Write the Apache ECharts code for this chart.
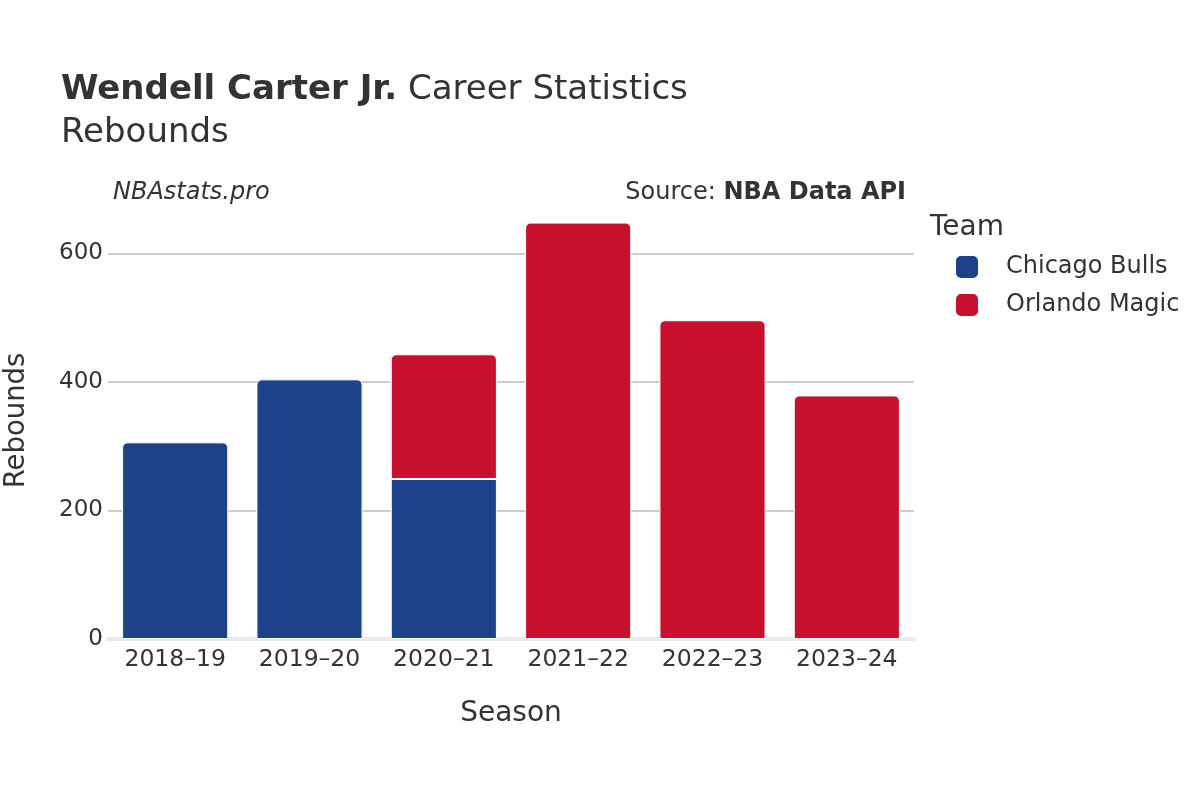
<!DOCTYPE html>
<html>
<head>
<meta charset="utf-8">
<script src="https://cdn.jsdelivr.net/npm/echarts@6/dist/echarts.min.js"></script>
<style>html,body{margin:0;padding:0;background:#fff}#c{width:1200px;height:800px}</style>
</head>
<body>
<div id="c"></div>
<script>
const seasons = ['2018\u201319', '2019\u201320', '2020\u201321', '2021\u201322', '2022\u201323', '2023\u201324'];
const bullsRebounds = [306, 404, 249, null, null, null];
const magicRebounds = [null, null, 194, 648, 496, 379];
const yTicks = [0, 200, 400, 600];
const teamNames = ['Chicago Bulls', 'Orlando Magic'];
const teamColors = ['#1D428A', '#C8102E'];

const FONT = 'DejaVu Sans';
// lower segment of a stacked bar gets square top corners
const bullsData = bullsRebounds.map((v, i) =>
  (v != null && magicRebounds[i] != null) ? { value: v, itemStyle: { borderRadius: 0 } } : v);

const chart = echarts.init(document.getElementById('c'));
chart.setOption({
  animation: false,
  textStyle: { fontFamily: FONT, color: '#333' },
  title: [
    { text: '{b|Wendell Carter Jr.} Career Statistics', left: 61, top: 73, padding: 0,
      textStyle: { fontFamily: FONT, fontSize: 34, fontWeight: 'normal', color: '#333',
        rich: { b: { fontFamily: FONT, fontSize: 34, fontWeight: 'bold', color: '#333' } } } },
    { text: 'Rebounds', left: 61, top: 116, padding: 0, textStyle: { fontFamily: FONT, fontSize: 34, fontWeight: 'normal', color: '#333' } },
    { text: 'NBAstats.pro', left: 113, top: 181, padding: 0, textStyle: { fontFamily: FONT, fontSize: 24, fontStyle: 'italic', fontWeight: 'normal', color: '#333' } },
    { text: 'Source: {b|NBA Data API}', right: 294, top: 181, padding: 0,
      textStyle: { fontFamily: FONT, fontSize: 24, fontWeight: 'normal', color: '#333',
        rich: { b: { fontFamily: FONT, fontSize: 24, fontWeight: 'bold', color: '#333' } } } },
    { text: 'Team', left: 930, top: 214, padding: 0, textStyle: { fontFamily: FONT, fontSize: 28, fontWeight: 'normal', color: '#333' } }
  ],
  legend: {
    left: 954, top: 254, padding: 0, orient: 'vertical', itemGap: 12,
    itemWidth: 24, itemHeight: 24, icon: 'roundRect',
    textStyle: { fontFamily: FONT, fontSize: 24, color: '#333', padding: [0, 0, 0, 22] },
    data: teamNames
  },
  grid: { left: 108, right: 286, top: 202, bottom: 161, containLabel: false, outerBoundsMode: 'none' },
  xAxis: {
    type: 'category', data: seasons,
    name: 'Season', nameLocation: 'middle', nameGap: 61,
    nameTextStyle: { fontFamily: FONT, fontSize: 28, color: '#333' },
    axisLine: { show: true, lineStyle: { color: '#ebebeb', width: 4 } },
    axisTick: { show: false },
    axisLabel: { fontFamily: FONT, fontSize: 23.5, color: '#333', margin: 9 }
  },
  yAxis: {
    type: 'value', min: 0, max: 680, interval: 200,
    name: 'Rebounds', nameLocation: 'middle', nameGap: 77,
    nameTextStyle: { fontFamily: FONT, fontSize: 27.5, color: '#333' },
    axisLine: { show: false }, axisTick: { show: false },
    axisLabel: { fontFamily: FONT, fontSize: 23, color: '#333', margin: 5, showMaxLabel: false,
      formatter: v => yTicks.includes(v) ? String(v) : '' },
    splitLine: { show: true, showMaxLine: false, showMinLine: false, lineStyle: { color: '#bdbdbd', width: 1.5 } }
  },
  series: [
    { name: teamNames[0], type: 'bar', stack: 'total', data: bullsData, barCategoryGap: '21%',
      itemStyle: { color: teamColors[0], borderColor: '#ffffff', borderWidth: 1, borderRadius: [5, 5, 0, 0] } },
    { name: teamNames[1], type: 'bar', stack: 'total', data: magicRebounds, barCategoryGap: '21%',
      itemStyle: { color: teamColors[1], borderColor: '#ffffff', borderWidth: 1, borderRadius: [5, 5, 0, 0] } }
  ]
});
</script>
</body>
</html>
